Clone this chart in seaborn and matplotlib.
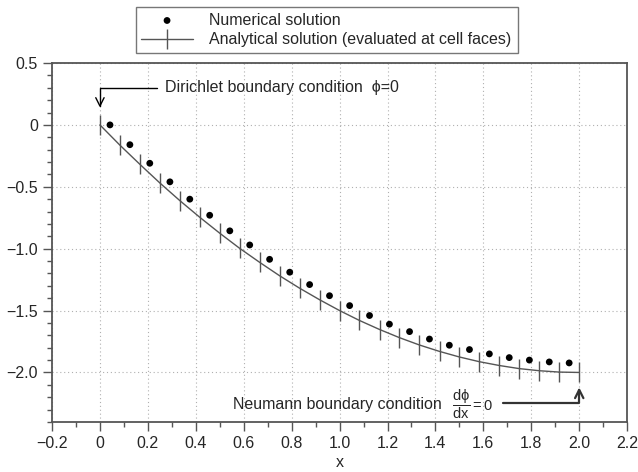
import matplotlib
matplotlib.use("Agg")
import matplotlib.pyplot as plt
import seaborn as sns
import numpy as np
import pandas as pd
from matplotlib.ticker import MultipleLocator

# cell centres and numerical solution
x_centres = [0.042, 0.125, 0.208, 0.292, 0.375, 0.458, 0.542, 0.625, 0.708, 0.792,
             0.875, 0.958, 1.042, 1.125, 1.208, 1.292, 1.375, 1.458, 1.542, 1.625,
             1.708, 1.792, 1.875, 1.958]
phi_numerical = [0.0, -0.16, -0.31, -0.46, -0.60, -0.73, -0.856, -0.97, -1.086, -1.19,
                 -1.29, -1.38, -1.46, -1.54, -1.61, -1.67, -1.73, -1.78, -1.815, -1.85,
                 -1.88, -1.90, -1.915, -1.923]

# cell faces and analytical solution
x_faces = [0.0, 0.083, 0.167, 0.25, 0.333, 0.417, 0.5, 0.583, 0.667, 0.75, 0.833,
           0.917, 1.0, 1.083, 1.167, 1.25, 1.333, 1.417, 1.5, 1.583, 1.667, 1.75,
           1.833, 1.917, 2.0]
phi_analytical = [0.0, -0.163, -0.319, -0.469, -0.611, -0.747, -0.875, -0.997, -1.111,
                  -1.219, -1.319, -1.413, -1.5, -1.580, -1.653, -1.719, -1.778, -1.830,
                  -1.875, -1.913, -1.944, -1.969, -1.986, -1.997, -2.0]

sns.set_style("ticks")
plt.rcParams['font.family'] = ['Liberation Sans', 'DejaVu Sans']
plt.rcParams['mathtext.fontset'] = 'custom'
plt.rcParams['mathtext.rm'] = 'Liberation Sans'
plt.rcParams['mathtext.it'] = 'Liberation Sans'
plt.rcParams['mathtext.fallback'] = 'stixsans'
plt.rcParams['font.size'] = 11.5

df_num = pd.DataFrame({'x': x_centres, 'phi': phi_numerical})
df_ana = pd.DataFrame({'x': x_faces, 'phi': phi_analytical})

fig = plt.figure(figsize=(6.38, 4.72), dpi=100)
ax = fig.add_axes([0.0815, 0.106, 0.9015, 0.7605])

grey = '#555555'
sns.lineplot(data=df_ana, x='x', y='phi', ax=ax, color=grey, linewidth=1.0,
             marker='|', markersize=15, markeredgewidth=1.0, markeredgecolor=grey,
             label='Analytical solution (evaluated at cell faces)', legend=False)
sns.scatterplot(data=df_num, x='x', y='phi', ax=ax, color='black', s=24,
                edgecolor='none', label='Numerical solution', legend=False, zorder=3)

ax.set_xlim(-0.2, 2.2)
ax.set_ylim(-2.4, 0.5)
ax.xaxis.set_minor_locator(MultipleLocator(0.1))
ax.yaxis.set_minor_locator(MultipleLocator(0.1))
ax.set_xticks(np.arange(-0.2, 2.21, 0.2))
ax.set_xticklabels(['\u22120.2', '0', '0.2', '0.4', '0.6', '0.8', '1.0', '1.2', '1.4',
                    '1.6', '1.8', '2.0', '2.2'])
ax.set_yticks(np.arange(-2.0, 0.51, 0.5))
ax.set_yticklabels(['\u22122.0', '\u22121.5', '\u22121.0', '\u22120.5', '0', '0.5'])
ax.tick_params(which='major', length=6.5, width=1.0, color=grey, labelsize=11.5, direction='out')
ax.tick_params(which='minor', length=3.5, width=1.0, color=grey, direction='out')
ax.grid(which='major', linestyle=(0, (1, 2.5)), color='#b0b0b0', linewidth=0.8)
for sp in ax.spines.values():
    sp.set_color(grey)
    sp.set_linewidth(1.3)
ax.set_xlabel('x', fontsize=11.5, labelpad=3)
ax.set_ylabel('')

# boundary condition annotations
ax.annotate('', xy=(0.0, 0.14), xytext=(0.24, 0.30),
            arrowprops=dict(arrowstyle='->', color='black', lw=1.0,
                            connectionstyle='angle,angleA=0,angleB=90,rad=0',
                            shrinkA=0, shrinkB=0, mutation_scale=15))
ax.text(0.27, 0.30, 'Dirichlet boundary condition  \u03d5=0', va='center', ha='left')

ax.annotate('', xy=(2.0, -2.12), xytext=(1.68, -2.25),
            arrowprops=dict(arrowstyle='->', color='#333333', lw=1.6,
                            connectionstyle='angle,angleA=0,angleB=90,rad=0',
                            shrinkA=0, shrinkB=0, mutation_scale=15))
ax.text(0.555, -2.26, 'Neumann boundary condition', va='center', ha='left')
ax.text(1.47, -2.26, '$\\dfrac{\\mathrm{d\u03d5}}{\\mathrm{dx}}\\mathrm{=0}$', va='center', ha='left',
        fontsize=10.5)

handles, labels = ax.get_legend_handles_labels()
order = [labels.index('Numerical solution'),
         labels.index('Analytical solution (evaluated at cell faces)')]
leg = fig.legend([handles[i] for i in order], [labels[i] for i in order],
                 loc='upper left', bbox_to_anchor=(0.213, 0.888, 0.599, 0.097),
                 mode='expand', fancybox=False, frameon=True, edgecolor=grey,
                 handlelength=3.2, borderaxespad=0, fontsize=11.5, labelspacing=0.3,
                 borderpad=0.35, handletextpad=1.0)
leg.get_frame().set_linewidth(1.0)

fig.savefig('out.png', dpi=100)
